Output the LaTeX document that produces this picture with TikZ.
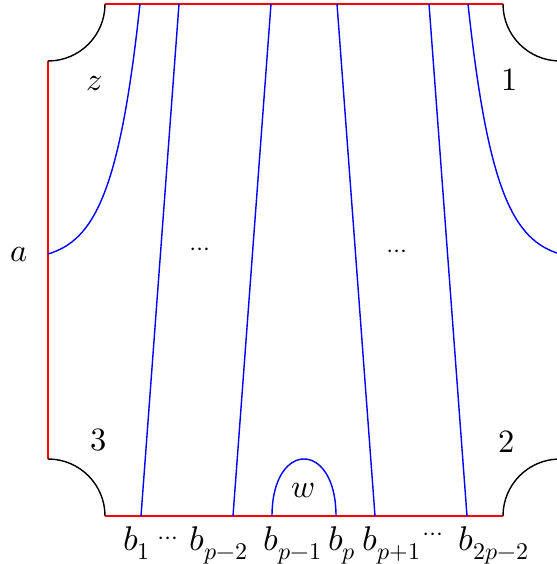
\documentclass[tikz,border=0pt]{standalone}
\usepackage{unicode-math}
\setmathfont{Latin Modern Math}
\begin{document}
\begin{tikzpicture}[
    x=0.02cm, y=0.02cm,
    redside/.style={draw=red, line width=0.9pt},
    corner/.style={draw=black, line width=0.8pt},
    strand/.style={draw=blue, line width=0.8pt},
    lab/.style={inner sep=0pt, font=\fontsize{18.5}{22}\selectfont},
    blab/.style={inner sep=0pt, anchor=base, font=\fontsize{19.5}{23}\selectfont},
    dotlab/.style={inner sep=0pt, font=\fontsize{14}{17}\selectfont},
  ]
    \useasboundingbox (0,0) rectangle (556,564);
    % square with the four corners cut out
    \draw[redside] (105,560) -- (503,560);
    \draw[redside] (48,503) -- (48,105);
    \draw[redside] (105,48) -- (503,48);
    \draw[corner] (48,503) arc[start angle=270, end angle=360, radius=57];
    \draw[corner] (503,560) arc[start angle=180, end angle=270, radius=57];
    \draw[corner] (48,105) arc[start angle=90, end angle=0, radius=57];
    \draw[corner] (503,48) arc[start angle=180, end angle=90, radius=57];
    % curved strands to the sides
    \coordinate (zt) at (140,560);
    \coordinate (za) at (48,310);
    \coordinate (ot) at (468,560);
    \coordinate (oa) at (560,310);
    \draw[strand] (zt) .. controls (120,374) and (95,324) .. (za);
    \draw[strand] (ot) .. controls (488,374) and (513,324) .. (oa);
    % straight strands from top to bottom
    \foreach \n/\xt/\xb in {1/179/141, 2/271/233, 3/337/375, 4/429/467} {
      \coordinate (t\n) at (\xt,560);
      \coordinate (s\n) at (\xb,48);
      \draw[strand] (t\n) -- (s\n);
    }
    % cap at the bottom
    \coordinate (wl) at (272,48);
    \coordinate (wr) at (336,48);
    \draw[strand] (wl) .. controls (272,124) and (336,124) .. (wr);
    % region labels
    \node[lab] (z) at (95,480) {$z$};
    \node[lab] (one) at (510,484) {$1$};
    \node[lab] (a) at (19,309) {$a$};
    \node[lab] (three) at (99,124) {$3$};
    \node[lab] (two) at (507,122) {$2$};
    \node[lab] (w) at (303,74) {$w$};
    \node[dotlab] (dl) at (200,312) {$\cdots$};
    \node[dotlab] (dr) at (397,310) {$\cdots$};
    % endpoint labels
    \foreach \x/\lb/\nm in {137/b_1/b1, 219/b_{p-2}/b2, 293/b_{p-1}/b3,
                            342/b_p/b4, 392/b_{p+1}/b5, 494/b_{2p-2}/b6} {
      \node[blab] (\nm) at (\x,13) {$\lb$};
    }
    \node[dotlab] (bd1) at (168,23) {$\cdots$};
    \node[dotlab] (bd2) at (433,27) {$\cdots$};
  \end{tikzpicture}
\end{document}
